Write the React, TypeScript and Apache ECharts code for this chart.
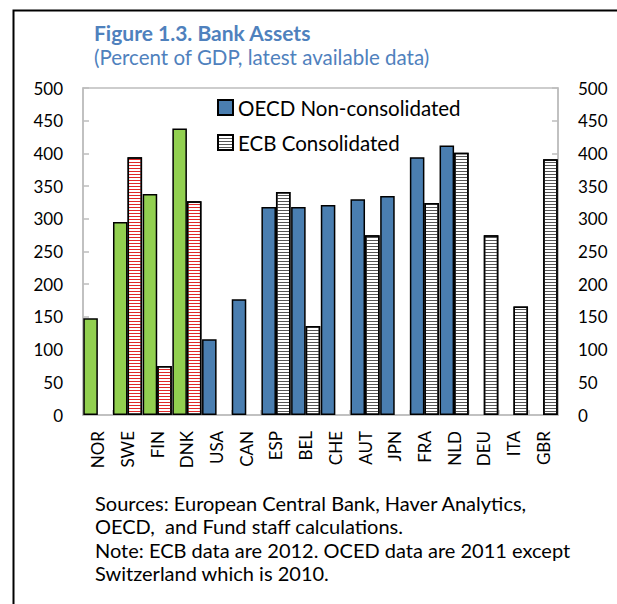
import React, { useEffect, useRef } from "react";
import * as echarts from "echarts";

const categories = ["NOR", "SWE", "FIN", "DNK", "USA", "CAN", "ESP", "BEL", "CHE", "AUT", "JPN", "FRA", "NLD", "DEU", "ITA", "GBR"];
const oecdNonConsolidated: (number | null)[] = [148, 295, 338, 438, 116, 177, 318, 318, 321, 330, 335, 394, 412, null, null, null];
const ecbConsolidated: (number | null)[] = [null, 394, 75, 327, null, null, 341, 136, null, 275, null, 324, 401, 275, 166, 391];
const nordic = ["NOR", "SWE", "FIN", "DNK"];
const yTicks = { min: 0, max: 500, interval: 50 };
const titleText = "Figure 1.3. Bank Assets";
const subtitleText = "(Percent of GDP, latest available data)";
const noteLines = [
  "Sources: European Central Bank, Haver Analytics,",
  "OECD,  and Fund staff calculations.",
  "Note: ECB data are 2012. OCED data are 2011 except",
  "Switzerland which is 2010.",
];

const FONT = "Lato, 'Open Sans', sans-serif";
const BLUE = "#4A7EB0";
const GREEN = "#92D050";
const AXIS_GRAY = "#BDBDBD";

const stripe = (color: string) => ({
  symbol: "rect",
  symbolSize: 1,
  dashArrayX: [1, 0],
  dashArrayY: [1, 2],
  rotation: 0,
  color,
});

export default function App() {
  const ref = useRef<HTMLDivElement>(null);
  useEffect(() => {
    if (!ref.current) return;
    const chart = echarts.init(ref.current, null, { renderer: "svg" });
    const yAxisBase = {
      type: "value",
      min: yTicks.min,
      max: yTicks.max,
      interval: yTicks.interval,
      splitLine: { show: false },
      axisLine: { show: true, lineStyle: { color: AXIS_GRAY, width: 1.5 } },
      axisTick: { show: true, inside: true, length: 6, lineStyle: { color: AXIS_GRAY, width: 1.5 } },
      axisLabel: { color: "#000", fontSize: 17, fontFamily: FONT, margin: 20 },
    };
    chart.setOption({
      animation: false,
      backgroundColor: "#fff",
      title: {
        text: titleText,
        subtext: subtitleText,
        left: 94,
        top: 22,
        padding: 0,
        itemGap: 3,
        textStyle: { fontSize: 21, lineHeight: 21, fontWeight: "bold", color: "#4F81BD", fontFamily: FONT },
        subtextStyle: { fontSize: 20.5, lineHeight: 21, color: "#4F81BD", fontFamily: FONT },
      },
      legend: {
        orient: "vertical",
        left: 217,
        top: 97,
        padding: 0,
        itemWidth: 15,
        itemHeight: 15,
        itemGap: 14,
        textStyle: { fontSize: 20.5, color: "#000", fontFamily: FONT },
        data: [
          { name: "OECD Non-consolidated", icon: "rect" },
          { name: "ECB Consolidated", icon: "rect" },
        ],
      },
      grid: {
        left: 83,
        top: 88,
        right: 59,
        bottom: 189,
        show: true,
        borderColor: AXIS_GRAY,
        borderWidth: 1.5,
        containLabel: false,
      },
      xAxis: {
        type: "category",
        data: categories,
        axisLine: { show: true, lineStyle: { color: AXIS_GRAY, width: 1.5 } },
        axisTick: { show: true, inside: true, length: 5, lineStyle: { color: AXIS_GRAY, width: 1.5 } },
        axisLabel: { rotate: 90, color: "#000", fontSize: 17, fontFamily: FONT, margin: 16, interval: 0 },
      },
      yAxis: [
        { ...yAxisBase, position: "left" },
        { ...yAxisBase, position: "right" },
      ],
      series: [
        {
          name: "OECD Non-consolidated",
          type: "bar",
          barGap: "0%",
          barCategoryGap: "2%",
          itemStyle: { color: BLUE, borderColor: "#000", borderWidth: 1.5 },
          data: oecdNonConsolidated.map((v, i) => ({
            value: v === null ? "-" : v,
            itemStyle: { color: nordic.includes(categories[i]) ? GREEN : BLUE, borderColor: "#000", borderWidth: 1.5 },
          })),
        },
        {
          name: "ECB Consolidated",
          type: "bar",
          barGap: "0%",
          barCategoryGap: "2%",
          itemStyle: { color: "#fff", borderColor: "#000", borderWidth: 1.5, decal: stripe("#555") },
          data: ecbConsolidated.map((v, i) => ({
            value: v === null ? "-" : v,
            itemStyle: {
              color: "#fff",
              borderColor: "#000",
              borderWidth: 1.5,
              decal: stripe(nordic.includes(categories[i]) ? "#E02828" : "#555"),
            },
          })),
        },
      ],
      graphic: [
        {
          type: "rect",
          left: 11,
          top: 8,
          shape: { width: 700, height: 700 },
          style: { fill: "none", stroke: "#000", lineWidth: 2 },
          silent: true,
        },
        {
          type: "text",
          left: 95,
          top: 491,
          style: {
            text: noteLines.join("\n"),
            fontSize: 20,
            lineHeight: 23.5,
            fill: "#000",
            fontFamily: FONT,
          },
        },
      ],
    });
    return () => chart.dispose();
  }, []);
  return <div ref={ref} style={{ position: "fixed", left: 0, top: 0, width: 617, height: 604 }} />;
}
